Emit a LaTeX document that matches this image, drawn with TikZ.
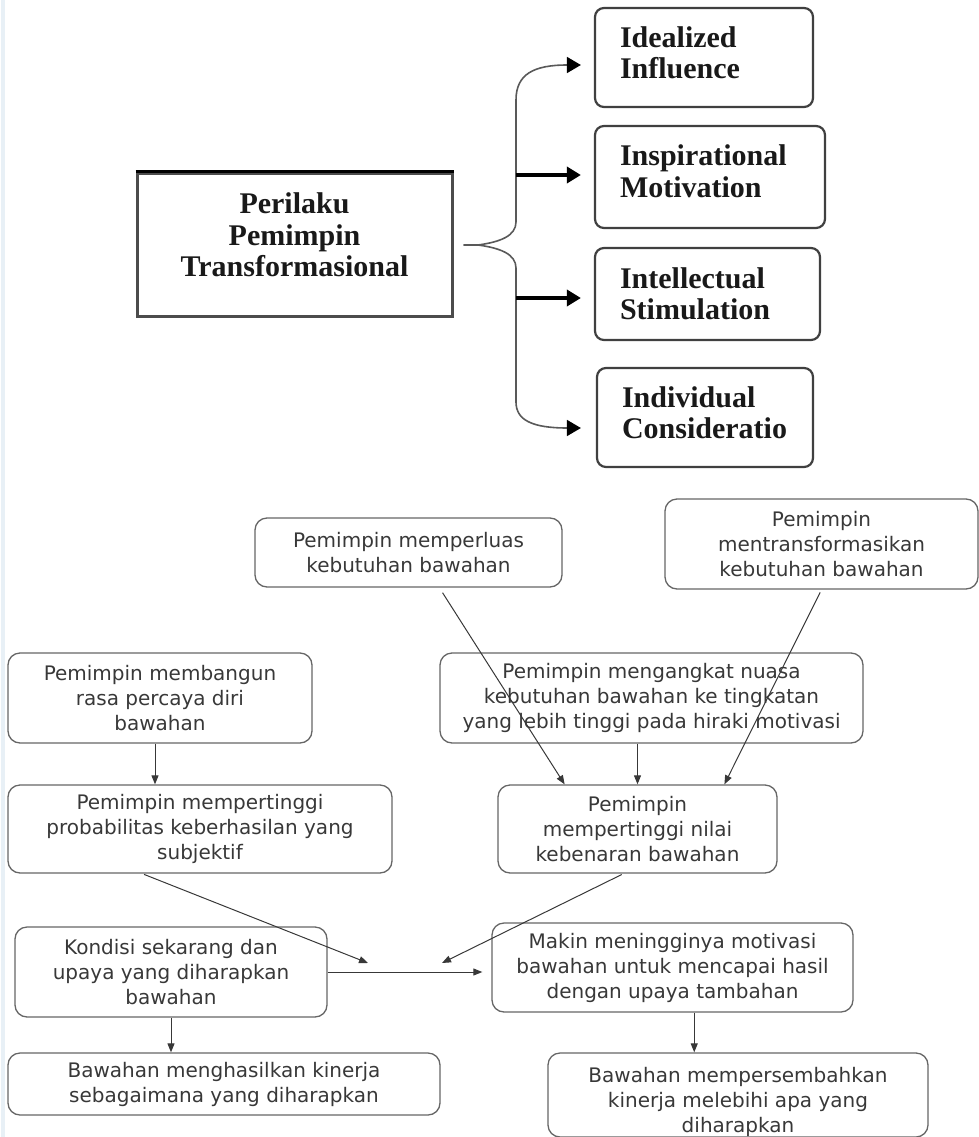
\documentclass[tikz,border=0pt]{standalone}
\usepackage{fontspec}
\setmainfont{Liberation Serif}
\newfontfamily\dvsfam{DejaVu Sans}
\usetikzlibrary{arrows.meta,calc}
\definecolor{edgestrip}{RGB}{232,240,246}
\newcommand\mytopfont{\bfseries\fontsize{30}{31.5}\selectfont}
\newcommand\mybotfont{\dvsfam\fontsize{20}{25}\selectfont}
\begin{document}
\begin{tikzpicture}[x=1pt,y=-1pt,
  topbox/.style={draw=black!75, line width=2.2pt, rounded corners=9pt, align=left,
     inner xsep=25pt, inner ysep=0pt, font=\mytopfont, text=black!90},
  mainbox/.style={draw=black!70, line width=3pt, align=center, inner sep=0pt,
     font=\mytopfont, text=black!90},
  botbox/.style={draw=black!60, line width=1.3pt, rounded corners=12pt, align=center,
     inner sep=0pt, font=\mybotfont, text=black!78},
  thinarr/.style={draw=black!78, line width=1pt, -{Triangle[length=9pt,width=7pt]}},
  bigarr/.style={draw=black, line width=4pt, -{Triangle[length=14pt,width=16pt]}},
  curvarr/.style={draw=black!65, line width=1.6pt, -{Triangle[length=14pt,width=16pt,color=black]}}
]
\useasboundingbox (0,0) rectangle (979,1137);
\fill[edgestrip] (1,0) rectangle (5,1137);

% ---------- top part ----------
\node[mainbox, minimum width=315pt, minimum height=143pt] (main) at (294.5,244.5)
  {Perilaku\\Pemimpin\\Transformasional\\[-12pt]\mbox{}};
\draw[black, line width=3pt] (main.north west) -- (main.north east);

\node[topbox, text width=168pt, minimum height=99pt]  (i1) at (704,57.5)  {Idealized\\Influence\\[-22pt]\mbox{}};
\node[topbox, text width=180pt, minimum height=102pt] (i2) at (710,177)   {Inspirational\\Motivation\\[-20pt]\mbox{}};
\node[topbox, text width=175pt, minimum height=92pt]  (i3) at (707.5,294) {Intellectual\\Stimulation};
\node[topbox, text width=166pt, minimum height=99pt]  (i4) at (705,417.5) {Individual\\Consideratio\\[-22pt]\mbox{}};

\coordinate (btip) at ($(main.east)+(10,0.5)$);
\coordinate (a1) at (560,65);
\coordinate (a2) at (516,175);
\coordinate (a3) at (516,298);
\coordinate (a4) at (560,428);

\draw[curvarr, shorten >=13pt] (btip) -- (478,245) .. controls (500,242) and (516,236) .. (516,222)
   -- (516,100) .. controls (516,74) and (534,65) .. (i1.west |- a1);
\draw[curvarr, shorten >=15pt] (btip) -- (478,245) .. controls (500,248) and (516,254) .. (516,268)
   -- (516,402) .. controls (516,420) and (532,428) .. (i4.west |- a4);
\draw[bigarr, shorten >=13pt] (a2) -- (i2.west |- a2);
\draw[bigarr, shorten >=13pt] (a3) -- (i3.west |- a3);

% ---------- bottom part ----------
\node[botbox, minimum width=307pt, minimum height=69pt] (mp) at (408.5,552.5)
  {Pemimpin memperluas\\kebutuhan bawahan};
\node[botbox, minimum width=313pt, minimum height=90pt] (mt) at (821.5,544)
  {Pemimpin\\mentransformasikan\\kebutuhan bawahan};
\node[botbox, minimum width=304pt, minimum height=90pt] (mb) at (160,698)
  {Pemimpin membangun\\rasa percaya diri\\bawahan};
\node[botbox, minimum width=423pt, minimum height=90pt] (mg) at (651.5,698)
  {Pemimpin mengangkat nuasa\\kebutuhan bawahan ke tingkatan\\yang lebih tinggi pada hiraki motivasi};
\node[botbox, minimum width=384pt, minimum height=88pt] (pr) at (200,829)
  {Pemimpin mempertinggi\\probabilitas keberhasilan yang\\subjektif};
\node[botbox, minimum width=279pt, minimum height=88pt] (nl) at (637.5,829)
  {Pemimpin\\mempertinggi nilai\\kebenaran bawahan};
\node[botbox, minimum width=312pt, minimum height=90pt] (kd) at (171,972)
  {Kondisi sekarang dan\\upaya yang diharapkan\\bawahan};
\node[botbox, minimum width=361pt, minimum height=89pt] (mk) at (672.5,967.5)
  {Makin meningginya motivasi\\bawahan untuk mencapai hasil\\dengan upaya tambahan};
\node[botbox, minimum width=432pt, minimum height=62pt] (mh) at (224,1084)
  {Bawahan menghasilkan kinerja\\sebagaimana yang diharapkan};
\node[botbox, minimum width=380pt, minimum height=84pt] (ms) at (738,1095)
  {\mbox{}\\[4pt]Bawahan mempersembahkan\\kinerja melebihi apa yang\\diharapkan};

\coordinate (mpb) at ($(mp.south west)!0.6!(mp.south east)$);
\coordinate (nlt1) at ($(nl.north west)!0.24!(nl.north east)$);
\coordinate (nlt2) at ($(nl.north west)!0.81!(nl.north east)$);
\coordinate (prb) at ($(pr.south west)!0.35!(pr.south east)$);
\coordinate (nlb) at ($(nl.south west)!0.45!(nl.south east)$);
\coordinate (m1) at (368,963);
\coordinate (m2) at (442,963);
\coordinate (mkb) at ($(mk.south west)!0.56!(mk.south east)$);
\coordinate (mbb) at ($(mb.south)+(-5,0)$);

\draw[thinarr, shorten <=6pt] (mpb) -- (nlt1);
\draw[thinarr, shorten <=3pt] (mt.south) -- (nlt2);
\draw[thinarr] (mbb) -- (mbb |- pr.north);
\draw[thinarr] (nl.north |- mg.south) -- (nl.north);
\draw[thinarr, shorten <=2pt] (prb) -- (m1);
\draw[thinarr, shorten <=2pt] (nlb) -- (m2);
\draw[thinarr, shorten >=9pt] (kd.east) -- (mk.west |- kd.east);
\draw[thinarr] (kd.south) -- (kd.south |- mh.north);
\draw[thinarr] (mkb) -- (mkb |- ms.north);
\end{tikzpicture}
\end{document}
